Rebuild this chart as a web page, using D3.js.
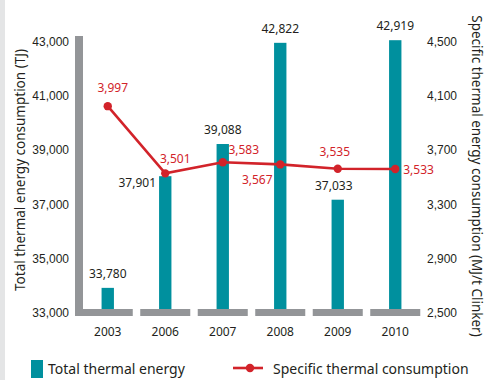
<!DOCTYPE html>
<html>
<head>
<meta charset="utf-8">
<script src="https://cdn.jsdelivr.net/npm/d3@7/dist/d3.min.js"></script>
<style>
  html, body { margin: 0; padding: 0; background: #fff; }
  svg { display: block; font-family: "Noto Sans", "Open Sans", sans-serif; }
</style>
</head>
<body>
<svg id="chart" width="487" height="380"></svg>
<script>
// Data
const years = ["2003", "2006", "2007", "2008", "2009", "2010"];
const totalThermal = [33780, 37901, 39088, 42822, 37033, 42919];
const specificThermal = [3997, 3501, 3583, 3567, 3535, 3533];
const leftTicks = [33000, 35000, 37000, 39000, 41000, 43000];
const rightTicks = [2500, 2900, 3300, 3700, 4100, 4500];

// Label placement for each point: [dx, dy, anchor]
const barLabelPos = [[0, -10, "middle"], [-28, 11, "middle"], [0, -10, "middle"], [0, -10, "middle"], [-4, -10, "middle"], [0, -10, "middle"]];
const lineLabelPos = [[5, -18, "middle"], [10, -15, "middle"], [21, -12, "middle"], [-23, 15, "middle"], [-3, -17, "middle"], [8, 1, "start"]];

const teal = "#00909e";
const grey = "#939598";
const red = "#d2232a";
const ink = "#231f20";

const svg = d3.select("#chart");

// light strip on the left edge
svg.append("rect").attr("x", 0).attr("y", 0).attr("width", 5).attr("height", 380).attr("fill", "#e4e5e6");

const x = d3.scaleBand().domain(years).range([79, 424]).padding(0);
const yL = d3.scaleLinear().domain([33000, 43000]).range([309, 38]);
const yR = d3.scaleLinear().domain([2500, 4500]).range([309, 38]);
const cx = d => x(d) + x.bandwidth() / 2;
const barW = x.bandwidth() * 0.215;
const segW = x.bandwidth() * 0.87;

// Bars
svg.append("g").selectAll("rect").data(years).join("rect")
  .attr("x", d => cx(d) - barW / 2)
  .attr("width", barW)
  .attr("y", (d, i) => yL(totalThermal[i]))
  .attr("height", (d, i) => yL(33000) - yL(totalThermal[i]))
  .attr("fill", teal);

// Left axis bar and base segments
svg.append("rect").attr("x", 75).attr("y", 36).attr("width", 8).attr("height", 280).attr("fill", grey);
svg.append("g").selectAll("rect").data(years).join("rect")
  .attr("x", (d, i) => i === 0 ? 75 : cx(d) - segW / 2)
  .attr("width", (d, i) => i === 0 ? cx(d) + segW / 2 - 75 : segW)
  .attr("y", yL(33000))
  .attr("height", 7)
  .attr("fill", grey);

// Left tick labels
const axL = svg.append("g").attr("transform", "translate(69,0)")
  .call(d3.axisLeft(yL).tickValues(leftTicks).tickSize(0).tickPadding(0).tickFormat(d3.format(",")));
axL.select(".domain").remove();
axL.selectAll("text").attr("font-size", 12).attr("fill", ink).attr("dy", "0.62em").attr("font-family", null);

// Right tick labels
const axR = svg.append("g").attr("transform", "translate(427,0)")
  .call(d3.axisRight(yR).tickValues(rightTicks).tickSize(0).tickPadding(0).tickFormat(d3.format(",")));
axR.select(".domain").remove();
axR.selectAll("text").attr("font-size", 12).attr("fill", ink).attr("dy", "0.62em").attr("font-family", null);

// Category labels
svg.append("g").selectAll("text").data(years).join("text")
  .attr("x", d => cx(d)).attr("y", 336)
  .attr("text-anchor", "middle").attr("font-size", 12).attr("fill", ink)
  .text(d => d);

// Bar value labels
svg.append("g").selectAll("text").data(years).join("text")
  .attr("x", (d, i) => cx(d) + barLabelPos[i][0])
  .attr("y", (d, i) => yL(totalThermal[i]) + barLabelPos[i][1])
  .attr("text-anchor", (d, i) => barLabelPos[i][2])
  .attr("font-size", 12).attr("fill", ink)
  .text((d, i) => d3.format(",")(totalThermal[i]));

// Line series
const line = d3.line().x(d => cx(d.year)).y(d => yR(d.v));
const pts = years.map((y, i) => ({ year: y, v: specificThermal[i] }));
svg.append("path").datum(pts).attr("d", line)
  .attr("fill", "none").attr("stroke", red).attr("stroke-width", 2.6);
svg.append("g").selectAll("circle").data(pts).join("circle")
  .attr("cx", d => cx(d.year)).attr("cy", d => yR(d.v)).attr("r", 4.2).attr("fill", red);

svg.append("g").selectAll("text").data(pts).join("text")
  .attr("x", (d, i) => cx(d.year) + lineLabelPos[i][0])
  .attr("y", (d, i) => yR(d.v) + lineLabelPos[i][1])
  .attr("dy", "0.35em")
  .attr("text-anchor", (d, i) => lineLabelPos[i][2])
  .attr("font-size", 12).attr("fill", red)
  .text(d => d3.format(",")(d.v));

// Axis titles
svg.append("text").attr("transform", "translate(20,170) rotate(-90)")
  .attr("text-anchor", "middle").attr("dy", "0.35em")
  .attr("font-size", 13.5).attr("fill", ink)
  .text("Total thermal energy consumption (TJ)");
svg.append("text").attr("transform", "translate(477,176) rotate(90)")
  .attr("text-anchor", "middle").attr("dy", "0.35em")
  .attr("font-size", 13.5).attr("fill", ink)
  .text("Specific thermal energy consumption (MJ/t Clinker)");

// Legend
const lg = svg.append("g");
lg.append("rect").attr("x", 31).attr("y", 360).attr("width", 12).attr("height", 18).attr("fill", teal);
lg.append("text").attr("x", 48).attr("y", 369).attr("dy", "0.35em")
  .attr("font-size", 14).attr("fill", ink).text("Total thermal energy");
lg.append("line").attr("x1", 233).attr("x2", 263).attr("y1", 368).attr("y2", 368)
  .attr("stroke", red).attr("stroke-width", 2.6);
lg.append("circle").attr("cx", 250).attr("cy", 368).attr("r", 4.2).attr("fill", red);
lg.append("text").attr("x", 273).attr("y", 369).attr("dy", "0.35em")
  .attr("font-size", 14).attr("fill", ink).text("Specific thermal consumption");
</script>
</body>
</html>
